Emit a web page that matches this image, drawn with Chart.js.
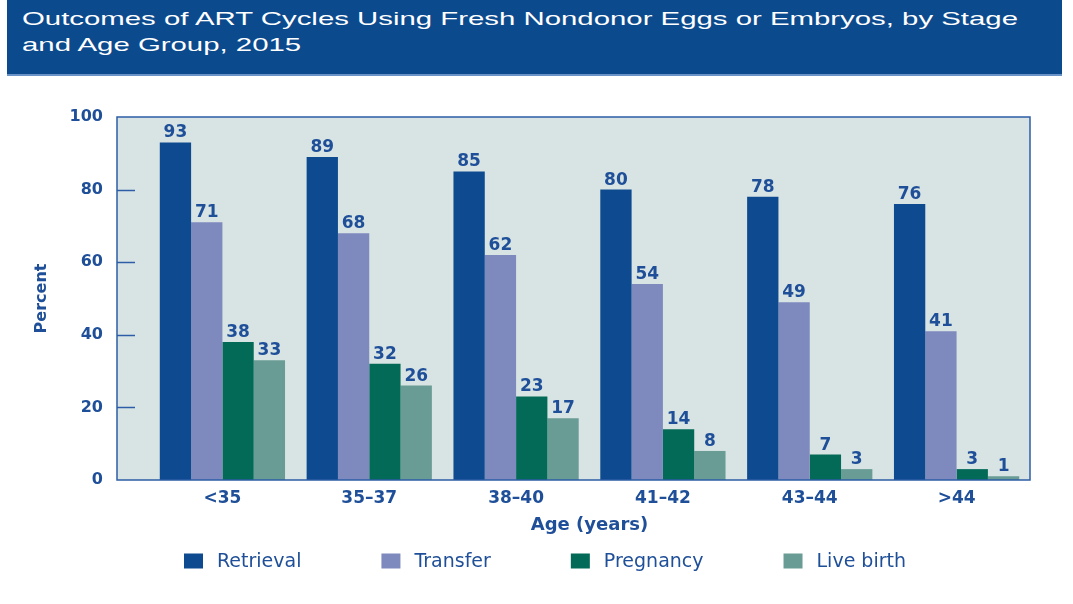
<!DOCTYPE html>
<html>
<head>
<meta charset="utf-8">
<script src="https://cdn.jsdelivr.net/npm/chart.js@4.4.1/dist/chart.umd.min.js"></script>
<style>
  html, body { margin: 0; padding: 0; background: #fff; width: 1073px; height: 604px; overflow: hidden; }
  #banner { position: absolute; left: 7px; top: 0; width: 1055px; height: 74px; background: #0c4a8e; border-bottom: 2px solid #6a93c8; }
  #title { position: absolute; left: 15px; top: 6px; color: #fff; font-family: "Liberation Sans", Arial, sans-serif;
           font-size: 19px; line-height: 26px; white-space: nowrap; transform-origin: 0 0; }
  #wrap { position: absolute; left: 0; top: 0; width: 1073px; height: 604px; }
</style>
</head>
<body>
<div id="banner"><div id="title">Outcomes of ART Cycles Using Fresh Nondonor Eggs or Embryos, by Stage<br>and Age Group, 2015</div></div>
<div id="wrap"><canvas id="chart" width="1073" height="604"></canvas></div>
<script>
// stretch title to the width it has in the source
const titleEl = document.getElementById("title");
titleEl.style.transform = "scaleX(" + (996 / titleEl.getBoundingClientRect().width) + ")";

const ageGroups = ["<35", "35–37", "38–40", "41–42", "43–44", ">44"];
const retrieval = [93, 89, 85, 80, 78, 76];
const transfer = [71, 68, 62, 54, 49, 41];
const pregnancy = [38, 32, 23, 14, 7, 3];
const liveBirth = [33, 26, 17, 8, 3, 1];
const yTicks = [0, 20, 40, 60, 80, 100];

const blueText = "#1e4f98";
const frameLeftExtra = 32;

const plotFrame = {
  id: "plotFrame",
  beforeDraw(chart) {
    const { ctx, chartArea: a } = chart;
    ctx.save();
    ctx.fillStyle = "#d8e4e3";
    ctx.fillRect(a.left - frameLeftExtra, a.top, a.right - a.left + frameLeftExtra, a.bottom - a.top);
    ctx.restore();
  },
  afterDatasetsDraw(chart) {
    const { ctx, chartArea: a, scales } = chart;
    ctx.save();
    // frame
    ctx.strokeStyle = "#2c5da6";
    ctx.lineWidth = 1.5;
    ctx.strokeRect(a.left - frameLeftExtra, a.top, a.right - a.left + frameLeftExtra, a.bottom - a.top);
    // short inside ticks
    yTicks.slice(1, -1).forEach(v => {
      const y = Math.round(scales.y.getPixelForValue(v)) + 0.5;
      ctx.beginPath();
      ctx.moveTo(a.left - frameLeftExtra, y);
      ctx.lineTo(a.left - frameLeftExtra + 18, y);
      ctx.stroke();
    });
    // value labels
    ctx.fillStyle = blueText;
    ctx.font = "bold 17px 'DejaVu Sans'";
    ctx.textAlign = "center";
    ctx.textBaseline = "bottom";
    chart.data.datasets.forEach((ds, i) => {
      chart.getDatasetMeta(i).data.forEach((bar, j) => {
        ctx.fillText(ds.data[j], bar.x, bar.y - 1);
      });
    });
    ctx.restore();
  },
  afterDraw(chart) {
    // legend row
    const { ctx } = chart;
    ctx.save();
    ctx.font = "19px 'DejaVu Sans'";
    const boxW = 19, boxH = 15, gap = 14, itemGap = 80, cy = 561;
    const items = chart.data.datasets.map(ds => ({ label: ds.label, color: ds.backgroundColor, w: ctx.measureText(ds.label).width }));
    const total = items.reduce((s, it) => s + boxW + gap + it.w, 0) + itemGap * (items.length - 1);
    let x = 545 - total / 2;
    ctx.textBaseline = "middle";
    items.forEach(it => {
      ctx.fillStyle = it.color;
      ctx.fillRect(x, cy - boxH / 2, boxW, boxH);
      ctx.fillStyle = blueText;
      ctx.fillText(it.label, x + boxW + gap, cy + 1);
      x += boxW + gap + it.w + itemGap;
    });
    ctx.restore();
  }
};

const chart = new Chart(document.getElementById("chart"), {
  type: "bar",
  data: {
    labels: ageGroups,
    datasets: [
      { label: "Retrieval", data: retrieval, backgroundColor: "#0d4a8f" },
      { label: "Transfer", data: transfer, backgroundColor: "#7e8abe" },
      { label: "Pregnancy", data: pregnancy, backgroundColor: "#036a57" },
      { label: "Live birth", data: liveBirth, backgroundColor: "#6a9c96" },
    ],
  },
  options: {
    responsive: false,
    animation: false,
    layout: { padding: { top: 117, right: 43, bottom: 64, left: 0 } },
    datasets: { bar: { categoryPercentage: 0.853, barPercentage: 1.0, borderWidth: 0 } },
    plugins: { legend: { display: false }, tooltip: { enabled: false } },
    scales: {
      x: {
        grid: { display: false, drawTicks: false },
        border: { display: false },
        ticks: { color: blueText, font: { family: "DejaVu Sans", size: 17, weight: "bold" }, padding: 8 },
        title: { display: true, text: "Age (years)", color: blueText,
                 font: { family: "DejaVu Sans", size: 18, weight: "bold" }, padding: { top: 4, bottom: 4 } },
        afterFit(scale) { scale.height = 60; },
      },
      y: {
        min: 0,
        max: 100,
        grid: { display: false, drawTicks: false },
        border: { display: false },
        ticks: { stepSize: 20, color: blueText, font: { family: "DejaVu Sans", size: 16, weight: "bold" }, padding: 46 },
        title: { display: true, text: "Percent", color: blueText,
                 font: { family: "DejaVu Sans", size: 16, weight: "bold" }, padding: { top: 32, bottom: 4 } },
        afterFit(scale) { scale.width = 149; },
      },
    },
  },
  plugins: [plotFrame],
});
</script>
</body>
</html>
